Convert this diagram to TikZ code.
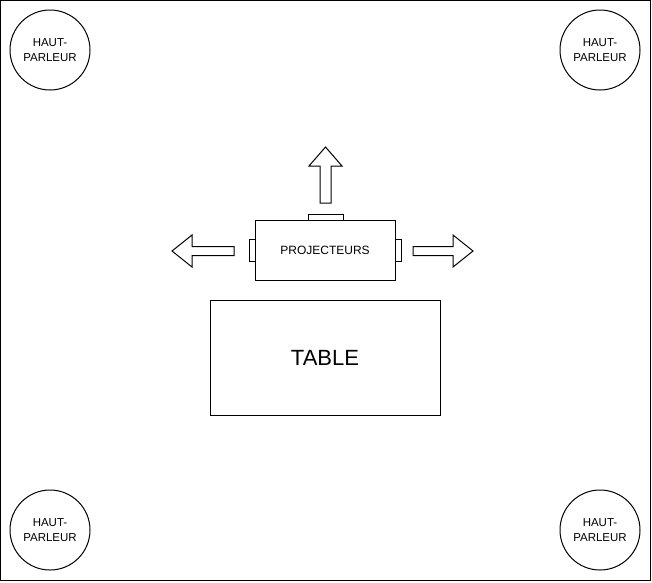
\documentclass[tikz,border=0pt]{standalone}
\usepackage{fontspec}
\setmainfont{Liberation Sans}
\tikzset{
  hp/.style={draw,circle,minimum size=80pt,inner sep=0pt,align=center,font=\fontsize{11.5}{15}\selectfont},
  boite/.style={draw,rectangle,inner sep=0pt},
  fleche/.style={draw,fill=white,line join=miter}
}
\begin{document}
\begin{tikzpicture}[x=1pt,y=-1pt,line width=1pt]
  \useasboundingbox (0,0) rectangle (652,582);
  % cadre de la salle
  \draw (0.5,0.5) rectangle (650.5,580.5);
  % haut-parleurs
  \node[hp] (hpA) at (50,50)  {HAUT-\\PARLEUR};
  \node[hp] (hpB) at (600,50) {HAUT-\\PARLEUR};
  \node[hp] (hpC) at (50,530) {HAUT-\\PARLEUR};
  \node[hp] (hpD) at (600,530){HAUT-\\PARLEUR};
  % table
  \node[boite,minimum width=230pt,minimum height=115pt,font=\fontsize{22}{26}\selectfont]
       (table) at (325,357.5) {TABLE};
  % projecteurs
  \draw[fill=white] (308,214) rectangle (343,220)
                    (249,239) rectangle (255,261)
                    (395,239) rectangle (401,261);
  \node[boite,fill=white,minimum width=140pt,minimum height=60pt,font=\fontsize{12}{14}\selectfont]
       (proj) at (325,250) {PROJECTEURS};
  % fleches
  \draw[fleche] (320,203) -- (320,166) -- (309,166) -- (325.5,147)
                -- (342,166) -- (331,166) -- (331,203) -- cycle;
  \draw[fleche] (234,246.5) -- (192,246.5) -- (192,235) -- (172,251)
                -- (192,267) -- (192,255.5) -- (234,255.5) -- cycle;
  \draw[fleche] (413,246.5) -- (453,246.5) -- (453,235) -- (473,251)
                -- (453,267) -- (453,255.5) -- (413,255.5) -- cycle;
\end{tikzpicture}
\end{document}
